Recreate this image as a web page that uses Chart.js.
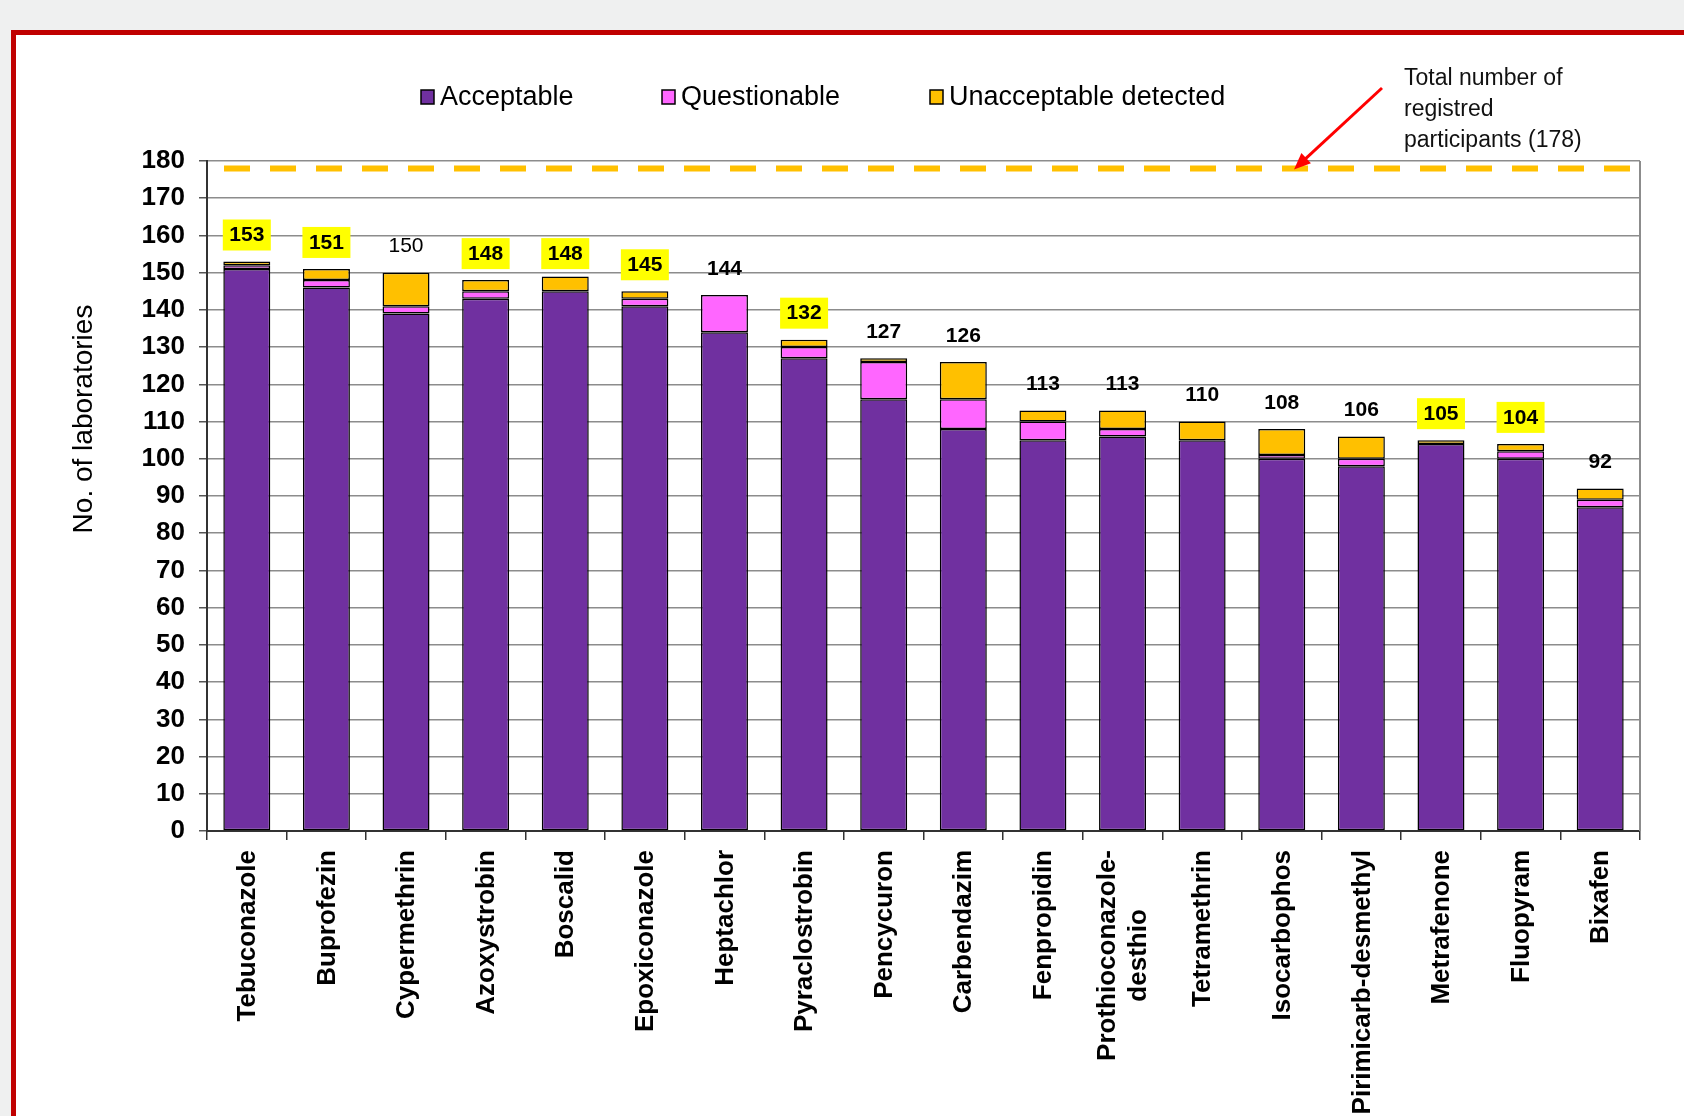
<!DOCTYPE html>
<html>
<head>
<meta charset="utf-8">
<script src="https://cdn.jsdelivr.net/npm/chart.js@4.4.1/dist/chart.umd.min.js"></script>
<style>
  html, body { margin: 0; padding: 0; width: 1684px; height: 1116px; overflow: hidden; background: #eff0f0; }
  #frame { position: absolute; left: 11px; top: 30px; right: 0; bottom: 0; background: #fff;
           border-left: 5px solid #c00000; border-top: 5px solid #c00000; }
  #chart { position: absolute; left: 0; top: 0; }
</style>
</head>
<body>
<div id="frame"></div>
<canvas id="chart" width="1684" height="1116"></canvas>
<script>
var PESTICIDES = [
    'Tebuconazole', 'Buprofezin', 'Cypermethrin', 'Azoxystrobin', 'Boscalid',
    'Epoxiconazole', 'Heptachlor', 'Pyraclostrobin', 'Pencycuron', 'Carbendazim',
    'Fenpropidin', ['Prothioconazole-', 'desthio'], 'Tetramethrin', 'Isocarbophos',
    'Pirimicarb-desmethyl', 'Metrafenone', 'Fluopyram', 'Bixafen'
];
var ACCEPTABLE   = [151, 146, 139, 143, 145, 141, 134, 127, 116, 108, 105, 106, 105, 100, 98, 104, 100, 87];
var QUESTIONABLE = [1, 2, 2, 2, 0, 2, 10, 3, 10, 8, 5, 2, 0, 1, 2, 0, 2, 2];
var UNACCEPTABLE = [1, 3, 9, 3, 4, 2, 0, 2, 1, 10, 3, 5, 5, 7, 6, 1, 2, 3];

// numbers printed above the bars, which of them sit on a yellow box, which are bold
var TOTALS      = [153, 151, 150, 148, 148, 145, 144, 132, 127, 126, 113, 113, 110, 108, 106, 105, 104, 92];
var HIGHLIGHTED = [1, 1, 0, 1, 1, 1, 0, 1, 0, 0, 0, 0, 0, 0, 0, 1, 1, 0];
var BOLD        = [1, 1, 0, 1, 1, 1, 1, 1, 1, 1, 1, 1, 1, 1, 1, 1, 1, 1];

var REGISTERED = 178;
var Y_MIN = 0, Y_MAX = 180, Y_STEP = 10;

var FONT = "'Liberation Sans', Arial, sans-serif";

const decor = {
  id: 'decor',
  beforeDatasetsDraw(chart) {
    const { ctx, chartArea: a } = chart;
    ctx.save();
    ctx.strokeStyle = '#8c8c8c';
    ctx.lineWidth = 2;
    ctx.beginPath();
    ctx.moveTo(a.right, a.top);
    ctx.lineTo(a.right, a.bottom);
    ctx.stroke();
    ctx.restore();
  },
  afterDraw(chart) {
    const { ctx, chartArea: a } = chart;
    const x = chart.scales.x, y = chart.scales.y;
    ctx.save();

    // registered participants line
    const yReg = y.getPixelForValue(REGISTERED);
    ctx.strokeStyle = '#ffc000';
    ctx.lineWidth = 6;
    ctx.setLineDash([26, 20]);
    ctx.lineDashOffset = 29;
    ctx.beginPath();
    ctx.moveTo(a.left, yReg);
    ctx.lineTo(a.right, yReg);
    ctx.stroke();
    ctx.setLineDash([]);

    // labels over bars
    ctx.textAlign = 'center';
    ctx.textBaseline = 'middle';
    TOTALS.forEach((v, i) => {
      const cx = x.getPixelForValue(i);
      const cy = y.getPixelForValue(v) - 27;
      if (HIGHLIGHTED[i]) {
        ctx.fillStyle = '#ffff00';
        ctx.fillRect(cx - 24, cy - 15, 48, 31);
      }
      ctx.fillStyle = '#000';
      ctx.font = (BOLD[i] ? 'bold ' : '') + '21px ' + FONT;
      ctx.fillText(String(v), cx, cy + 1);
    });

    // category labels, rotated, multi-line centred
    ctx.font = 'bold 26px ' + FONT;
    PESTICIDES.forEach((lab, i) => {
      const lines = Array.isArray(lab) ? lab : [lab];
      const w = Math.max(...lines.map(l => ctx.measureText(l).width));
      const cx = x.getPixelForValue(i);
      ctx.save();
      ctx.translate(cx, a.bottom + 19);
      ctx.rotate(-Math.PI / 2);
      ctx.textAlign = 'center';
      lines.forEach((l, k) => {
        const off = (k - (lines.length - 1) / 2) * 31;
        ctx.fillText(l, -w / 2, off + 1);
      });
      ctx.restore();
    });

    // y axis title
    ctx.save();
    ctx.translate(84, 419);
    ctx.rotate(-Math.PI / 2);
    ctx.font = '28px ' + FONT;
    ctx.textAlign = 'center';
    ctx.fillText('No. of laboratories', 0, 0);
    ctx.restore();

    // legend
    ctx.textAlign = 'left';
    ctx.font = '27px ' + FONT;
    const legendX = [421, 662, 930];
    chart.data.datasets.forEach((ds, i) => {
      const lx = legendX[i];
      ctx.fillStyle = ds.backgroundColor;
      ctx.fillRect(lx, 90, 13, 14);
      ctx.strokeStyle = '#000';
      ctx.lineWidth = 1.5;
      ctx.strokeRect(lx, 90, 13, 14);
      ctx.fillStyle = '#000';
      ctx.fillText(ds.label, lx + 19, 98);
    });

    // annotation with arrow
    ctx.font = '23px ' + FONT;
    ctx.fillStyle = '#111';
    ['Total number of', 'registred', 'participants (178)'].forEach((t, k) => {
      ctx.fillText(t, 1404, 79 + k * 31);
    });
    const x0 = 1382, y0 = 88, x1 = 1294, y1 = yReg + 1;
    const ang = Math.atan2(y1 - y0, x1 - x0);
    ctx.strokeStyle = '#ff0000';
    ctx.fillStyle = '#ff0000';
    ctx.lineWidth = 3;
    ctx.beginPath();
    ctx.moveTo(x0, y0);
    ctx.lineTo(x1 - 10 * Math.cos(ang), y1 - 10 * Math.sin(ang));
    ctx.stroke();
    ctx.beginPath();
    ctx.moveTo(x1, y1);
    ctx.lineTo(x1 - 18 * Math.cos(ang - 0.4), y1 - 18 * Math.sin(ang - 0.4));
    ctx.lineTo(x1 - 18 * Math.cos(ang + 0.4), y1 - 18 * Math.sin(ang + 0.4));
    ctx.closePath();
    ctx.fill();

    ctx.restore();
  }
};

const ctx = document.getElementById('chart');
new Chart(ctx, {
  type: 'bar',
  data: {
    labels: PESTICIDES,
    datasets: [{
      label: 'Acceptable',
      data: ACCEPTABLE,
      backgroundColor: '#7030a0'
    }, {
      label: 'Questionable',
      data: QUESTIONABLE,
      backgroundColor: '#ff66ff'
    }, {
      label: 'Unacceptable detected',
      data: UNACCEPTABLE,
      backgroundColor: '#ffc000'
    }]
  },
  options: {
    responsive: false,
    animation: false,
    devicePixelRatio: 1,
    layout: { padding: { top: 161, right: 44, left: 0, bottom: 0 } },
    datasets: {
      bar: {
        borderColor: '#000',
        borderWidth: 1.5,
        borderSkipped: false,
        barPercentage: 0.59,
        categoryPercentage: 1
      }
    },
    plugins: {
      legend: { display: false },
      tooltip: { enabled: false }
    },
    scales: {
      x: {
        stacked: true,
        afterFit: s => { s.height = 285; },
        border: { color: '#333', width: 2 },
        grid: { drawOnChartArea: false, drawTicks: true, tickLength: 9, color: '#333', lineWidth: 1.5 },
        ticks: { display: false }
      },
      y: {
        stacked: true,
        min: Y_MIN,
        max: Y_MAX,
        afterFit: s => { s.width = 207; },
        border: { color: '#333', width: 2 },
        grid: { color: '#8c8c8c', lineWidth: 1.5, tickLength: 8, tickColor: '#555' },
        ticks: {
          stepSize: Y_STEP,
          padding: 14,
          color: '#000',
          font: { family: FONT, size: 26, weight: 'bold' }
        }
      }
    }
  },
  plugins: [decor]
});
</script>
</body>
</html>
